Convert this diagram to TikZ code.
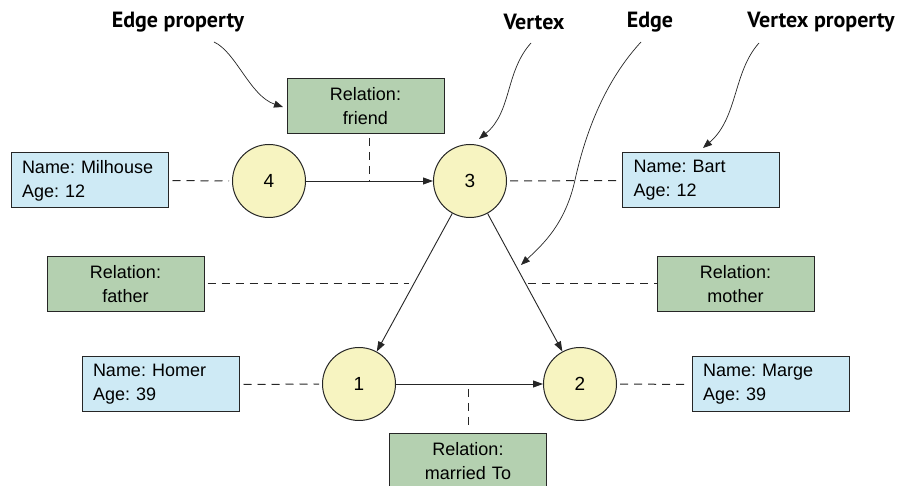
\documentclass[tikz,border=0pt]{standalone}
\usepackage{fontspec}
\setmainfont{Liberation Sans}
\newfontfamily\annofont{PT Sans}
\usetikzlibrary{arrows.meta,calc}
\definecolor{propgreen}{RGB}{180,208,176}
\definecolor{propblue}{RGB}{206,234,245}
\definecolor{vyellow}{RGB}{247,244,193}
\frenchspacing
\tikzset{
  vbox/.style={draw=black!85,line width=1pt,fill=propblue,minimum width=157pt,minimum height=55pt,
    text width=135pt,inner xsep=11pt,align=left,font=\frenchspacing\fontsize{18}{24}\selectfont},
  ebox/.style={draw=black!85,line width=1pt,fill=propgreen,minimum width=157pt,minimum height=55pt,
    text width=135pt,inner xsep=11pt,align=center,font=\frenchspacing\fontsize{18}{24}\selectfont},
  vert/.style={circle,draw=black!85,line width=1pt,fill=vyellow,minimum size=73pt,inner sep=0pt,
    font=\fontsize{19}{22}\selectfont},
  rel/.style={draw=black!85,line width=0.9pt,-{Triangle[length=10pt,width=7pt]}},
  prop/.style={draw=black!85,line width=1pt,dash pattern=on 8pt off 6pt},
  anno/.style={font=\annofont\bfseries\fontsize{22}{24}\selectfont},
  annoarr/.style={draw=black!85,line width=0.7pt,-{Triangle[length=9pt,width=7pt]}}
}
\begin{document}
\begin{tikzpicture}[x=1pt,y=-1pt]
\useasboundingbox (0,0) rectangle (898,486);
\clip (0,0) rectangle (898,486);
\fill[white] (0,0) rectangle (898,486);
% vertices
\node[vert] (n4) at (269,181) {4};
\node[vert] (n3) at (470,181) {3};
\node[vert] (n1) at (359,384) {1};
\node[vert] (n2) at (580,384) {2};
% vertex properties
\node[vbox] (milhouse) at (89.5,180.5) {Name: Milhouse\\Age: 12};
\node[vbox] (bart) at (701,180.5) {Name: Bart\\Age: 12};
\node[vbox] (homer) at (160.5,384.5) {Name: Homer\\Age: 39};
\node[vbox] (marge) at (770.5,384.5) {Name: Marge\\Age: 39};
% edge properties
\node[ebox] (friend) at (365.5,106) {Relation:\\friend};
\node[ebox] (father) at (125.5,284) {Relation:\\father};
\node[ebox] (mother) at (735.5,284) {Relation:\\mother};
\node[ebox] (married) at (468,461.5) {Relation:\\married To};
% edges
\draw[rel] (n4) -- (n3);
\draw[rel] (n3) -- (n1);
\draw[rel] (n3) -- (n2);
\draw[rel] (n1) -- (n2);
% edge midpoints
\coordinate (m43) at ($(n4)!0.5!(n3)$);
\coordinate (m31) at ($(n3)!0.5!(n1)+(-6,0)$);
\coordinate (m32) at ($(n3)!0.5!(n2)+(3,0)$);
\coordinate (m12) at ($(n1)!0.5!(n2)+(-1.5,0)$);
% dashed connectors
\draw[prop,shorten <=4pt,shorten >=3pt] (milhouse.east) -- (n4.west);
\draw[prop,shorten <=3pt,shorten >=3pt] (n3.east) -- (bart.west);
\draw[prop,shorten <=4pt,shorten >=3pt] (homer.east) -- (n1.west);
\draw[prop,shorten <=3pt,shorten >=3pt] (n2.east) -- (marge.west);
\draw[prop,shorten <=4pt] (friend.south -| m43) -- (m43);
\draw[prop,shorten <=3pt] (father.east) -- (father.east -| m31);
\draw[prop] (mother.west -| m32) -- (mother.west);
\draw[prop,shorten >=4pt,shorten <=5pt] (m12) -- (married.north -| m12);
% annotations
\node[anno] (lep) at (178,22) {Edge property};
\node[anno] (lv) at (534,22) {Vertex};
\node[anno] (le) at (650,22) {Edge};
\node[anno] (lvp) at (821,22) {Vertex property};
\coordinate (aep) at (214,42);
\coordinate (av) at (531,43);
\coordinate (ae) at (641,42);
\coordinate (avp) at (759,43);
\coordinate (eep) at (283,107);
\coordinate (ev) at (479,139);
\coordinate (ee) at (521,265);
\coordinate (evp) at (703,148);
\draw[annoarr] (aep) .. controls (236,52) and (250,96) .. (eep);
\draw[annoarr] (av) .. controls (505,72) and (512,112) .. (ev);
\draw[annoarr] (ae) .. controls (606,80) and (586,130) .. (575,180) .. controls (565,225) and (542,245) .. (ee);
\draw[annoarr] (avp) .. controls (733,72) and (738,118) .. (evp);
\end{tikzpicture}
\end{document}
